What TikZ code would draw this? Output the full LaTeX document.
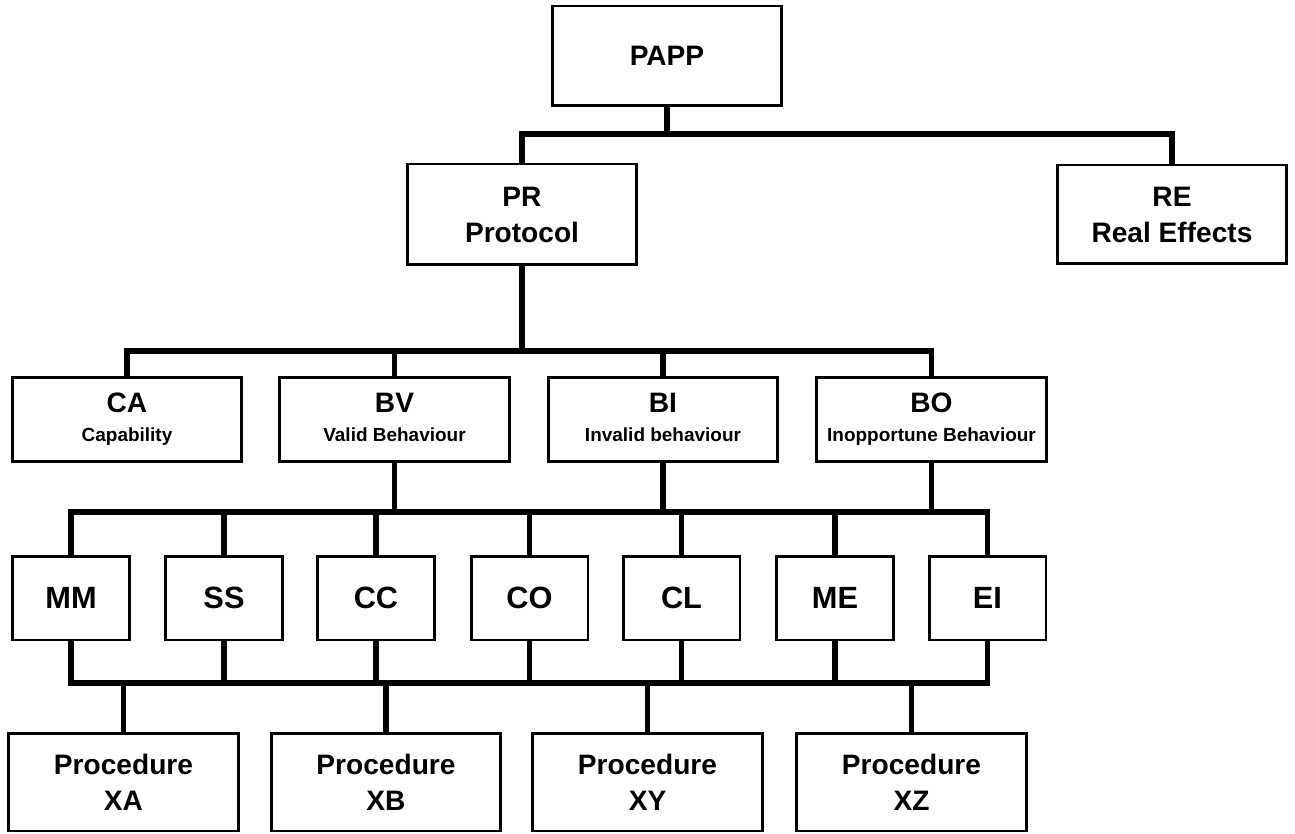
\documentclass[tikz,border=0pt]{standalone}
\usepackage{fontspec}
\setmainfont{Liberation Sans}
\begin{document}
\begin{tikzpicture}[x=0.02cm, y=-0.02cm,
  box/.style={draw, line width=1.7pt, inner sep=0pt, align=center,
    font=\fontsize{16}{20.5}\selectfont\bfseries},
  wide/.style={box, minimum width=4.6cm},
  narrow/.style={box, minimum width=2.34cm, minimum height=1.68cm,
    font=\fontsize{17.5}{21}\selectfont\bfseries},
  link/.style={line width=3pt}]

\useasboundingbox (0,0) rectangle (1295,834);

\coordinate (bus1) at (0,134);
\coordinate (bus2) at (0,351);
\coordinate (bus3) at (0,512);
\coordinate (bus4) at (0,683);

\node[wide, minimum height=2cm] (papp) at (667,56) {PAPP};
\node[wide, minimum height=2.02cm] (pr) at (522,214.5) {PR\\Protocol};
\node[wide, minimum height=1.98cm] (re) at (1172,214.5) {RE\\Real Effects};

\foreach \nm/\px/\hd/\tx in {ca/127/CA/Capability, bv/394.5/BV/Valid Behaviour,
    bi/663/BI/Invalid behaviour, bo/931.5/BO/Inopportune Behaviour}
  \node[wide, minimum height=1.7cm] (\nm) at (\px,419.5)
    {\hd\\[-4pt]{\fontsize{10.8}{12}\selectfont\tx\vphantom{py}}};

\foreach \nm/\px/\hd in {mm/71/MM, ss/224/SS, cc/376/CC, co/529.5/CO,
    cl/681.5/CL, me/835/ME, ei/987.5/EI}
  \node[narrow] (\nm) at (\px,598) {\hd};

\foreach \nm/\px/\tx in {xa/123.5/XA, xb/386/XB, xy/647.5/XY, xz/911.5/XZ}
  \node[wide, minimum height=1.96cm] (\nm) at (\px,782) {Procedure\\\tx};

\draw[link] (papp.south) -- (papp.south |- bus1);
\draw[link] (pr.north) |- (re.north |- bus1) -- (re.north);

\draw[link] (pr.south) -- (pr.south |- bus2);
\draw[link] (ca.north) |- (bo.north |- bus2) -- (bo.north);
\foreach \nm in {bv, bi}
  \draw[link] (\nm.north) -- (\nm.north |- bus2);

\foreach \nm in {bv, bi, bo}
  \draw[link] (\nm.south) -- (\nm.south |- bus3);
\draw[link] (mm.north) |- (ei.north |- bus3) -- (ei.north);
\foreach \nm in {ss, cc, co, cl, me}
  \draw[link] (\nm.north) -- (\nm.north |- bus3);

\draw[link] (mm.south) |- (ei.south |- bus4) -- (ei.south);
\foreach \nm in {ss, cc, co, cl, me}
  \draw[link] (\nm.south) -- (\nm.south |- bus4);
\foreach \nm in {xa, xb, xy, xz}
  \draw[link] (\nm.north) -- (\nm.north |- bus4);
\end{tikzpicture}
\end{document}
